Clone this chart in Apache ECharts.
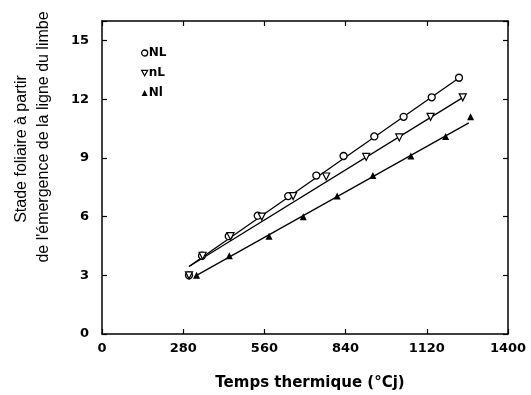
<!DOCTYPE html>
<html>
<head>
<meta charset="utf-8">
<script src="https://cdn.jsdelivr.net/npm/echarts@6/dist/echarts.min.js"></script>
<style>
  html, body { margin: 0; padding: 0; background: #fff; }
  #chart { width: 531px; height: 395px; }
</style>
</head>
<body>
<div id="chart"></div>
<script>
// points (temps thermique, stade foliaire)
const nlX = [300, 345, 437, 537, 642, 739, 833, 939, 1040, 1137, 1231];
const nlY = [3, 4, 5, 6.05, 7.05, 8.1, 9.1, 10.1, 11.1, 12.1, 13.1];
const nLX = [300, 347, 443, 551, 659, 773, 911, 1025, 1133, 1244];
const nLY = [3, 4, 5, 6, 7.05, 8.05, 9.05, 10.05, 11.1, 12.1];
const NlX = [326, 439, 576, 694, 811, 934, 1065, 1185, 1271];
const NlY = [3, 4, 5, 6, 7.05, 8.1, 9.1, 10.1, 11.1];

// fitted lines, end points
const fitNLX = [300, 1231];
const fitNLY = [3.45, 13.09];
const fitnLX = [300, 1248];
const fitnLY = [3.45, 12.12];
const fitNlX = [326, 1265];
const fitNlY = [3.0, 10.79];

const xTicks = [0, 280, 560, 840, 1120, 1400];
const yTicks = [0, 3, 6, 9, 12, 15];

const names = ['NL', 'nL', 'Nl'];

const zip = (xs, ys) => xs.map((x, i) => [x, ys[i]]);
const font = 'DejaVu Sans';
const downTri = 'path://M0,0 L10,0 L5,9 Z';

const chart = echarts.init(document.getElementById('chart'));

const axisCommon = {
  axisLine: { show: true, onZero: false, lineStyle: { color: '#000', width: 1.5 } },
  axisTick: { show: true, inside: true, length: 5, lineStyle: { color: '#000', width: 1.2 } },
  splitLine: { show: false },
};

const lineSeries = (xs, ys) => ({
  type: 'line',
  data: zip(xs, ys),
  symbol: 'none',
  lineStyle: { color: '#000', width: 1.3 },
  z: 3,
  silent: true,
});

const option = {
  animation: false,
  backgroundColor: '#fff',
  grid: { left: 102, top: 21, width: 406, height: 313 },
  legend: {
    data: [
      { name: names[0], icon: 'circle', itemStyle: { color: '#fff', borderColor: '#000', borderWidth: 1.3 } },
      { name: names[1], icon: downTri, itemStyle: { color: '#fff', borderColor: '#000', borderWidth: 1.2 } },
      { name: names[2], icon: 'triangle', itemStyle: { color: '#000', borderWidth: 0 } },
    ],
    orient: 'vertical',
    left: 141,
    top: 46,
    itemWidth: 6,
    itemHeight: 6,
    itemGap: 6,
    padding: 0,
    textStyle: { fontFamily: font, fontWeight: 'bold', fontSize: 12, color: '#000', lineHeight: 14, padding: [0, 0, 0, -4] },
  },
  xAxis: [
    Object.assign({
      type: 'value', min: 0, max: 1400, interval: 280, position: 'bottom',
      axisLabel: { color: '#000', fontFamily: font, fontWeight: 'bold', fontSize: 13, margin: 8,
        formatter: v => (xTicks.indexOf(v) >= 0 ? String(v) : '') },
    }, axisCommon),
    Object.assign({
      type: 'value', min: 0, max: 1400, interval: 280, position: 'top',
      axisLabel: { show: false },
    }, axisCommon),
  ],
  yAxis: [
    Object.assign({
      type: 'value', min: 0, max: 16, interval: 3, position: 'left',
      axisLabel: { color: '#000', fontFamily: font, fontWeight: 'bold', fontSize: 13, margin: 13,
        formatter: v => (yTicks.indexOf(v) >= 0 ? String(v) : '') },
    }, axisCommon),
    Object.assign({
      type: 'value', min: 0, max: 16, interval: 3, position: 'right',
      axisLabel: { show: false },
    }, axisCommon),
  ],
  series: [
    lineSeries(fitNLX, fitNLY),
    lineSeries(fitnLX, fitnLY),
    lineSeries(fitNlX, fitNlY),
    {
      name: 'NL', type: 'scatter', data: zip(nlX, nlY),
      symbol: 'circle', symbolSize: 7,
      itemStyle: { color: '#fff', borderColor: '#000', borderWidth: 1.3, opacity: 1 },
      z: 4,
    },
    {
      name: 'nL', type: 'scatter', data: zip(nLX, nLY),
      symbol: downTri, symbolSize: 7,
      itemStyle: { color: '#fff', borderColor: '#000', borderWidth: 1.2, opacity: 1 },
      z: 4,
    },
    {
      name: 'Nl', type: 'scatter', data: zip(NlX, NlY),
      symbol: 'triangle', symbolSize: 7,
      itemStyle: { color: '#000', opacity: 1 },
      z: 4,
    },
  ],
  graphic: [
    {
      type: 'text', x: 22, y: 149, rotation: Math.PI / 2,
      style: { text: 'Stade foliaire à partir', fontFamily: 'Liberation Sans', fontSize: 16,
        fill: '#000', textAlign: 'center', textVerticalAlign: 'middle' },
    },
    {
      type: 'text', x: 44, y: 137, rotation: Math.PI / 2,
      style: { text: "de l'émergence de la ligne du limbe", fontFamily: 'Liberation Sans', fontSize: 16,
        fill: '#000', textAlign: 'center', textVerticalAlign: 'middle' },
    },
    {
      type: 'text', x: 310, y: 383,
      style: { text: 'Temps thermique (°Cj)', fontFamily: font, fontWeight: 'bold', fontSize: 15,
        fill: '#000', textAlign: 'center', textVerticalAlign: 'middle' },
    },
  ],
};

chart.setOption(option);
</script>
</body>
</html>
